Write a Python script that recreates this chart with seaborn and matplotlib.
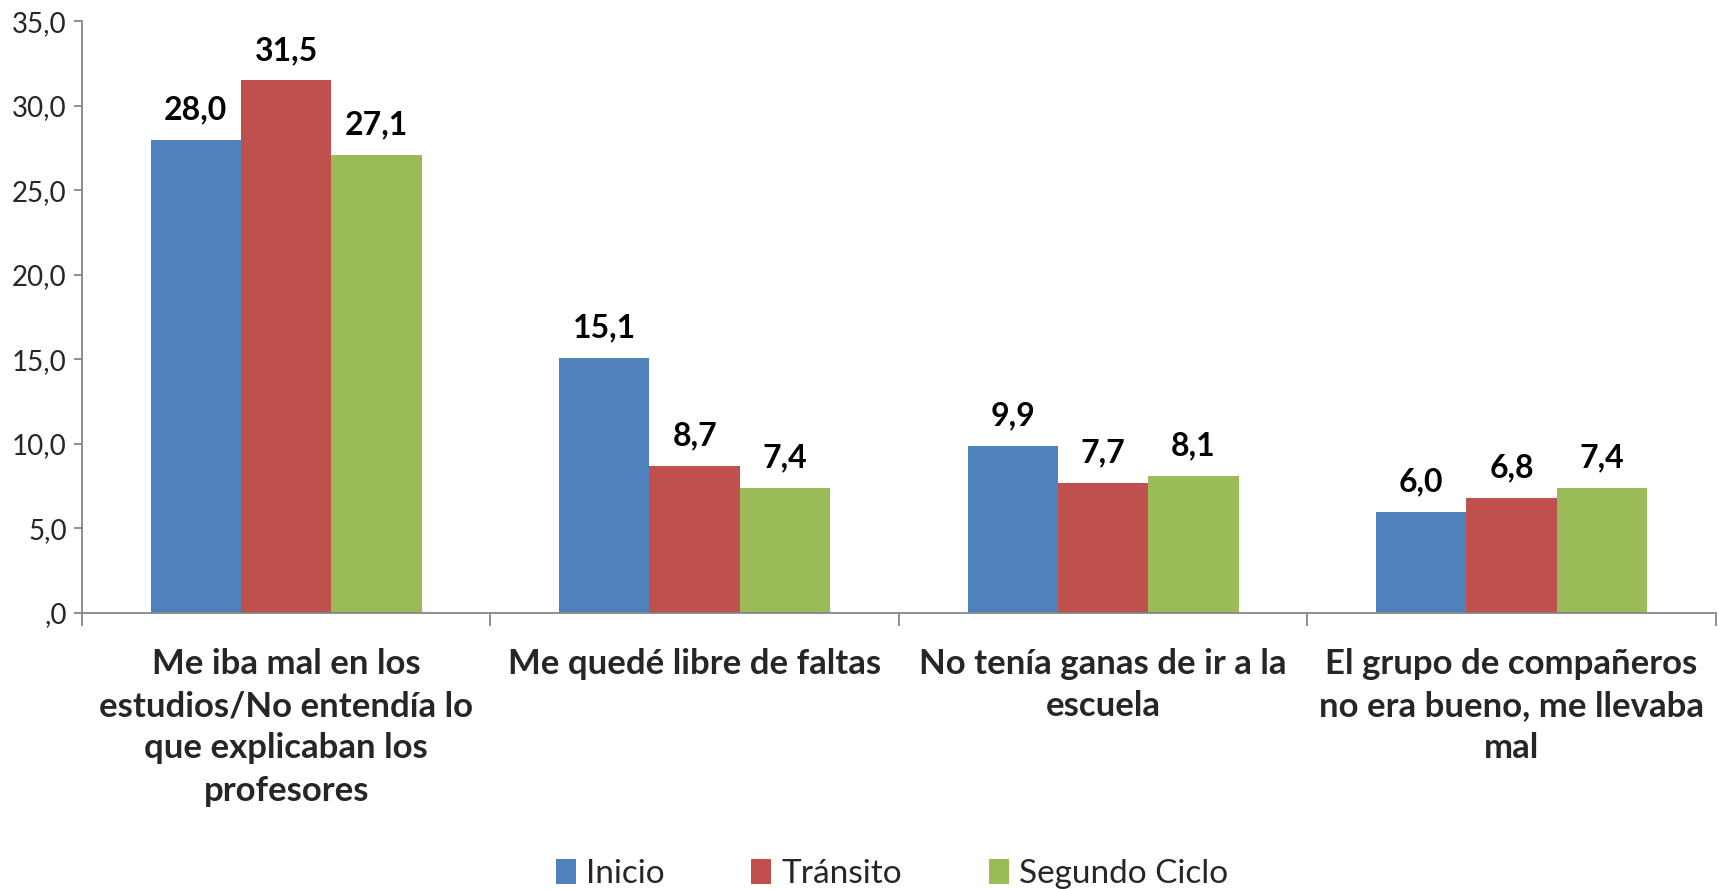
import pandas as pd
import matplotlib.pyplot as plt
import seaborn as sns
from matplotlib.ticker import FuncFormatter, FixedLocator

# Data
categories = [
    "Me iba mal en los\nestudios/No entendía lo\nque explicaban los\nprofesores",
    "Me quedé libre de faltas",
    "No tenía ganas de ir a la\nescuela",
    "El grupo de compañeros\nno era bueno, me llevaba\nmal",
]
series = ["Inicio", "Tránsito", "Segundo Ciclo"]
inicio = [28.0, 15.1, 9.9, 6.0]
transito = [31.5, 8.7, 7.7, 6.8]
segundo_ciclo = [27.1, 7.4, 8.1, 7.4]
y_ticks = [0, 5, 10, 15, 20, 25, 30, 35]

COLORS = ["#4F81BD", "#C0504D", "#9BBB59"]
AXIS_COLOR = "#868686"


def comma(v):
    s = f"{v:.1f}".replace(".", ",")
    return s[1:] if s.startswith("0,") else s


def main():
    df = pd.DataFrame({
        "categoria": categories * 3,
        "serie": [series[0]] * 4 + [series[1]] * 4 + [series[2]] * 4,
        "valor": inicio + transito + segundo_ciclo,
    })

    sns.set_style("white")
    plt.rcParams["font.family"] = ["Lato", "DejaVu Sans"]

    fig = plt.figure(figsize=(17.27, 8.89), dpi=100)
    ax = fig.add_axes([0.0475, 0.3105, 0.946, 0.6655])

    sns.barplot(data=df, x="categoria", y="valor", hue="serie",
                order=categories, hue_order=series, palette=COLORS,
                saturation=1, width=0.664, gap=0, ax=ax, errorbar=None,
                linewidth=0)

    # data labels
    for cont in ax.containers:
        ax.bar_label(cont, labels=[comma(b.get_height()) for b in cont],
                     padding=11, fontsize=23, fontweight="bold", color="black")

    ax.set_ylim(0, 35)
    ax.set_xlim(-0.5, 3.5)
    ax.yaxis.set_major_locator(FixedLocator(y_ticks))
    ax.yaxis.set_major_formatter(FuncFormatter(lambda v, p: comma(v)))
    ax.tick_params(axis="y", which="major", left=True, length=6, width=1.3,
                   color=AXIS_COLOR, labelsize=20, pad=5)

    # category labels centered, tick marks on boundaries
    ax.set_xticks(range(len(categories)))
    ax.set_xticklabels(categories, fontsize=25, fontweight="bold",
                       linespacing=1.4, va="top")
    ax.tick_params(axis="x", which="major", length=0, pad=25)
    ax.set_xticks([-0.5, 0.5, 1.5, 2.5, 3.5], minor=True)
    ax.tick_params(axis="x", which="minor", bottom=True, length=9, width=1.3,
                   color=AXIS_COLOR)

    ax.set_xlabel("")
    ax.set_ylabel("")
    for side in ["top", "right"]:
        ax.spines[side].set_visible(False)
    for side in ["left", "bottom"]:
        ax.spines[side].set_color(AXIS_COLOR)
        ax.spines[side].set_linewidth(1.3)

    ax.legend(loc="center", bbox_to_anchor=(0.5165, 0.017),
              bbox_transform=fig.transFigure, ncol=3, frameon=False,
              fontsize=24, handlelength=0.6, handleheight=0.8,
              handletextpad=0.3, columnspacing=2.6, borderpad=0)

    fig.savefig("out.png", dpi=100)


if __name__ == "__main__":
    main()
